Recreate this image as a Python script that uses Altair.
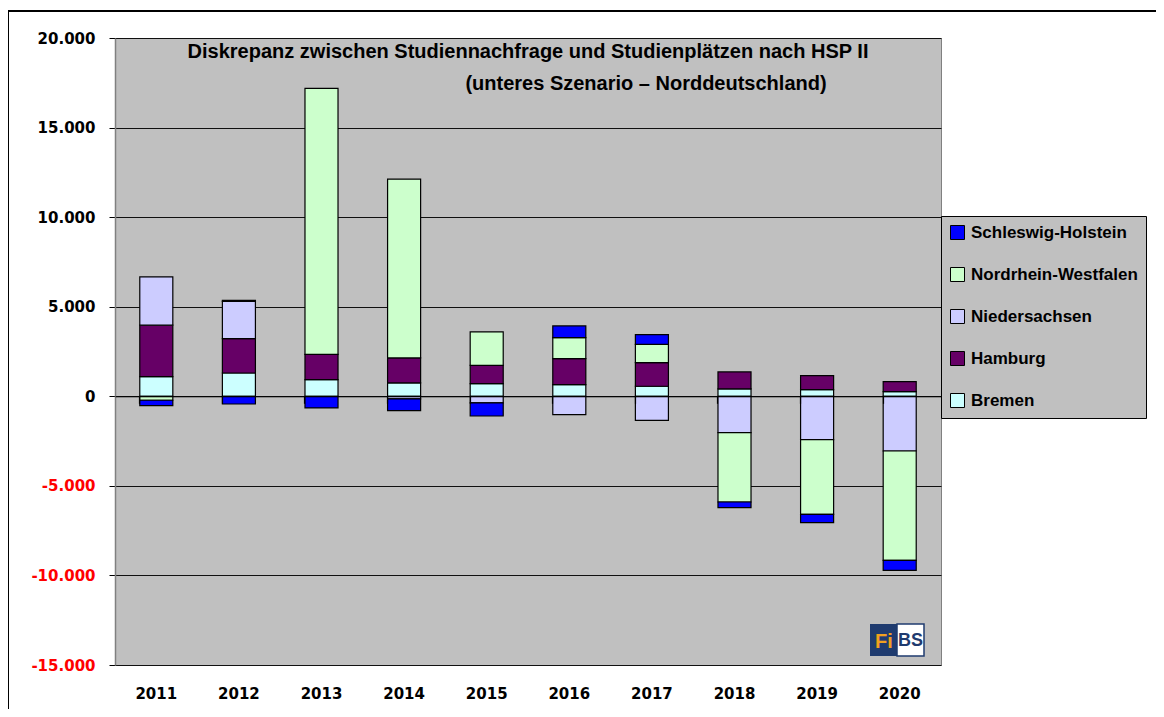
import altair as alt
import pandas as pd

years = ["2011", "2012", "2013", "2014", "2015", "2016", "2017", "2018", "2019", "2020"]
series = ["Bremen", "Hamburg", "Niedersachsen", "Nordrhein-Westfalen", "Schleswig-Holstein"]
bremen = [1100, 1300, 930, 745, 710, 650, 560, 410, 370, 260]
hamburg = [2870, 1920, 1415, 1395, 1020, 1450, 1320, 950, 785, 560]
niedersachsen = [2700, 2080, 0, -150, -370, -1025, -1340, -2030, -2420, -3055]
nrw = [-220, 60, 14845, 9980, 1860, 1175, 1020, -3870, -4170, -6105]
sh = [-300, -430, -650, -650, -730, 650, 540, -315, -465, -560]
colors = {"Schleswig-Holstein": "#0000FF", "Nordrhein-Westfalen": "#CCFFCC",
          "Niedersachsen": "#CCCCFF", "Hamburg": "#660066", "Bremen": "#CCFFFF"}
y_ticks = [-15000, -10000, -5000, 0, 5000, 10000, 15000, 20000]
title1 = "Diskrepanz zwischen Studiennachfrage und Studienplätzen nach HSP II"
title2 = "(unteres Szenario – Norddeutschland)"

rows = []
for idx, (name, vals) in enumerate(zip(series, [bremen, hamburg, niedersachsen, nrw, sh])):
    for yr, v in zip(years, vals):
        rows.append({"year": yr, "series": name, "idx": idx, "value": v})
df = pd.DataFrame(rows)
one = pd.DataFrame({"a": [0]})

W, H = 826, 627
y0_px = H * 20000 / 35000
legend_order = list(reversed(series))

bars = alt.Chart(df).mark_bar(stroke="black", strokeWidth=1.2).encode(
    x=alt.X("year:N", sort=years,
            scale=alt.Scale(paddingInner=0.6, paddingOuter=0.3),
            axis=alt.Axis(title=None, labelAngle=0, domain=False, ticks=False, grid=False,
                          labelFont="DejaVu Sans", labelFontWeight="bold", labelFontSize=15,
                          labelColor="black", labelPadding=21)),
    y=alt.Y("value:Q", stack="zero",
            scale=alt.Scale(domain=[-15000, 20000], nice=False, zero=False),
            axis=alt.Axis(title=None, values=y_ticks,
                          labelExpr="(datum.value < 0 ? '-' : '') + replace(format(abs(datum.value), ','), ',', '.')",
                          labelFont="DejaVu Sans", labelFontWeight="bold", labelFontSize=15,
                          labelColor={"condition": {"test": "datum.value < 0", "value": "#FF0000"}, "value": "black"},
                          tickColor="black", tickSize=6, labelPadding=14,
                          domainColor="#808080", domainWidth=1.5,
                          gridColor="#101010", gridWidth=1)),
    color=alt.Color("series:N", scale=alt.Scale(domain=legend_order,
                                                 range=[colors[s] for s in legend_order]),
                    legend=alt.Legend(title=None, orient="none", legendX=826, legendY=178,
                                      fillColor="#C0C0C0", strokeColor="black", padding=8,
                                      rowPadding=23, symbolType="square", symbolSize=196,
                                      symbolStrokeColor="black", symbolStrokeWidth=1,
                                      symbolOpacity=1, labelOffset=5,
                                      labelFont="Liberation Sans", labelFontWeight="bold",
                                      labelFontSize=17, labelColor="black", labelLimit=300)),
    order=alt.Order("idx:Q", sort="ascending"),
)

zero_axis = alt.Chart(df).mark_point(opacity=0).encode(
    x=alt.X("year:N", sort=years,
            axis=alt.Axis(title=None, orient="bottom", offset=-(H - y0_px), bandPosition=0,
                          labels=False, domain=True, domainColor="black", domainWidth=1,
                          ticks=True, tickColor="black", tickWidth=1.2, tickSize=7,
                          grid=False, zindex=1)),
)

t1 = alt.Chart(one).mark_text(font="Liberation Sans", fontWeight="bold", fontSize=20,
                              color="black", align="center", baseline="middle").encode(
    x=alt.value(413), y=alt.value(14), text=alt.value(title1))
t2 = alt.Chart(one).mark_text(font="Liberation Sans", fontWeight="bold", fontSize=20,
                              color="black", align="center", baseline="middle").encode(
    x=alt.value(531), y=alt.value(46), text=alt.value(title2))

frame_top = alt.Chart(one).mark_rule(color="black", strokeWidth=2).encode(
    x=alt.value(-108), x2=alt.value(1100), y=alt.value(-27))
frame_left = alt.Chart(one).mark_rule(color="black", strokeWidth=2).encode(
    x=alt.value(-107), y=alt.value(-28), y2=alt.value(720))

logo_l = alt.Chart(one).mark_rect(color="#1F3B6F").encode(
    x=alt.value(755), x2=alt.value(782), y=alt.value(586), y2=alt.value(618))
logo_r = alt.Chart(one).mark_rect(color="white", stroke="#1F3B6F", strokeWidth=1.5).encode(
    x=alt.value(782), x2=alt.value(809), y=alt.value(586), y2=alt.value(618))
logo_fi = alt.Chart(one).mark_text(font="Liberation Sans", fontWeight="bold", fontSize=20,
                                   color="#F0A020", align="center", baseline="middle").encode(
    x=alt.value(769), y=alt.value(604), text=alt.value("Fi"))
logo_bs = alt.Chart(one).mark_text(font="Liberation Sans", fontWeight="bold", fontSize=18,
                                   color="#1F3B6F", align="center", baseline="middle").encode(
    x=alt.value(795.5), y=alt.value(603), text=alt.value("BS"))

chart = alt.layer(
    bars, zero_axis, t1, t2, logo_l, logo_r, logo_fi, logo_bs, frame_top, frame_left
).resolve_axis(x="independent").properties(
    width=W, height=H,
    autosize=alt.AutoSizeParams(type="none"),
    padding={"left": 107, "top": 30, "right": 215, "bottom": 44},
    background="white",
).configure_view(fill="#C0C0C0", stroke="#808080", strokeWidth=1)

chart.save("out.html", embed_options={"renderer": "svg", "actions": False})
